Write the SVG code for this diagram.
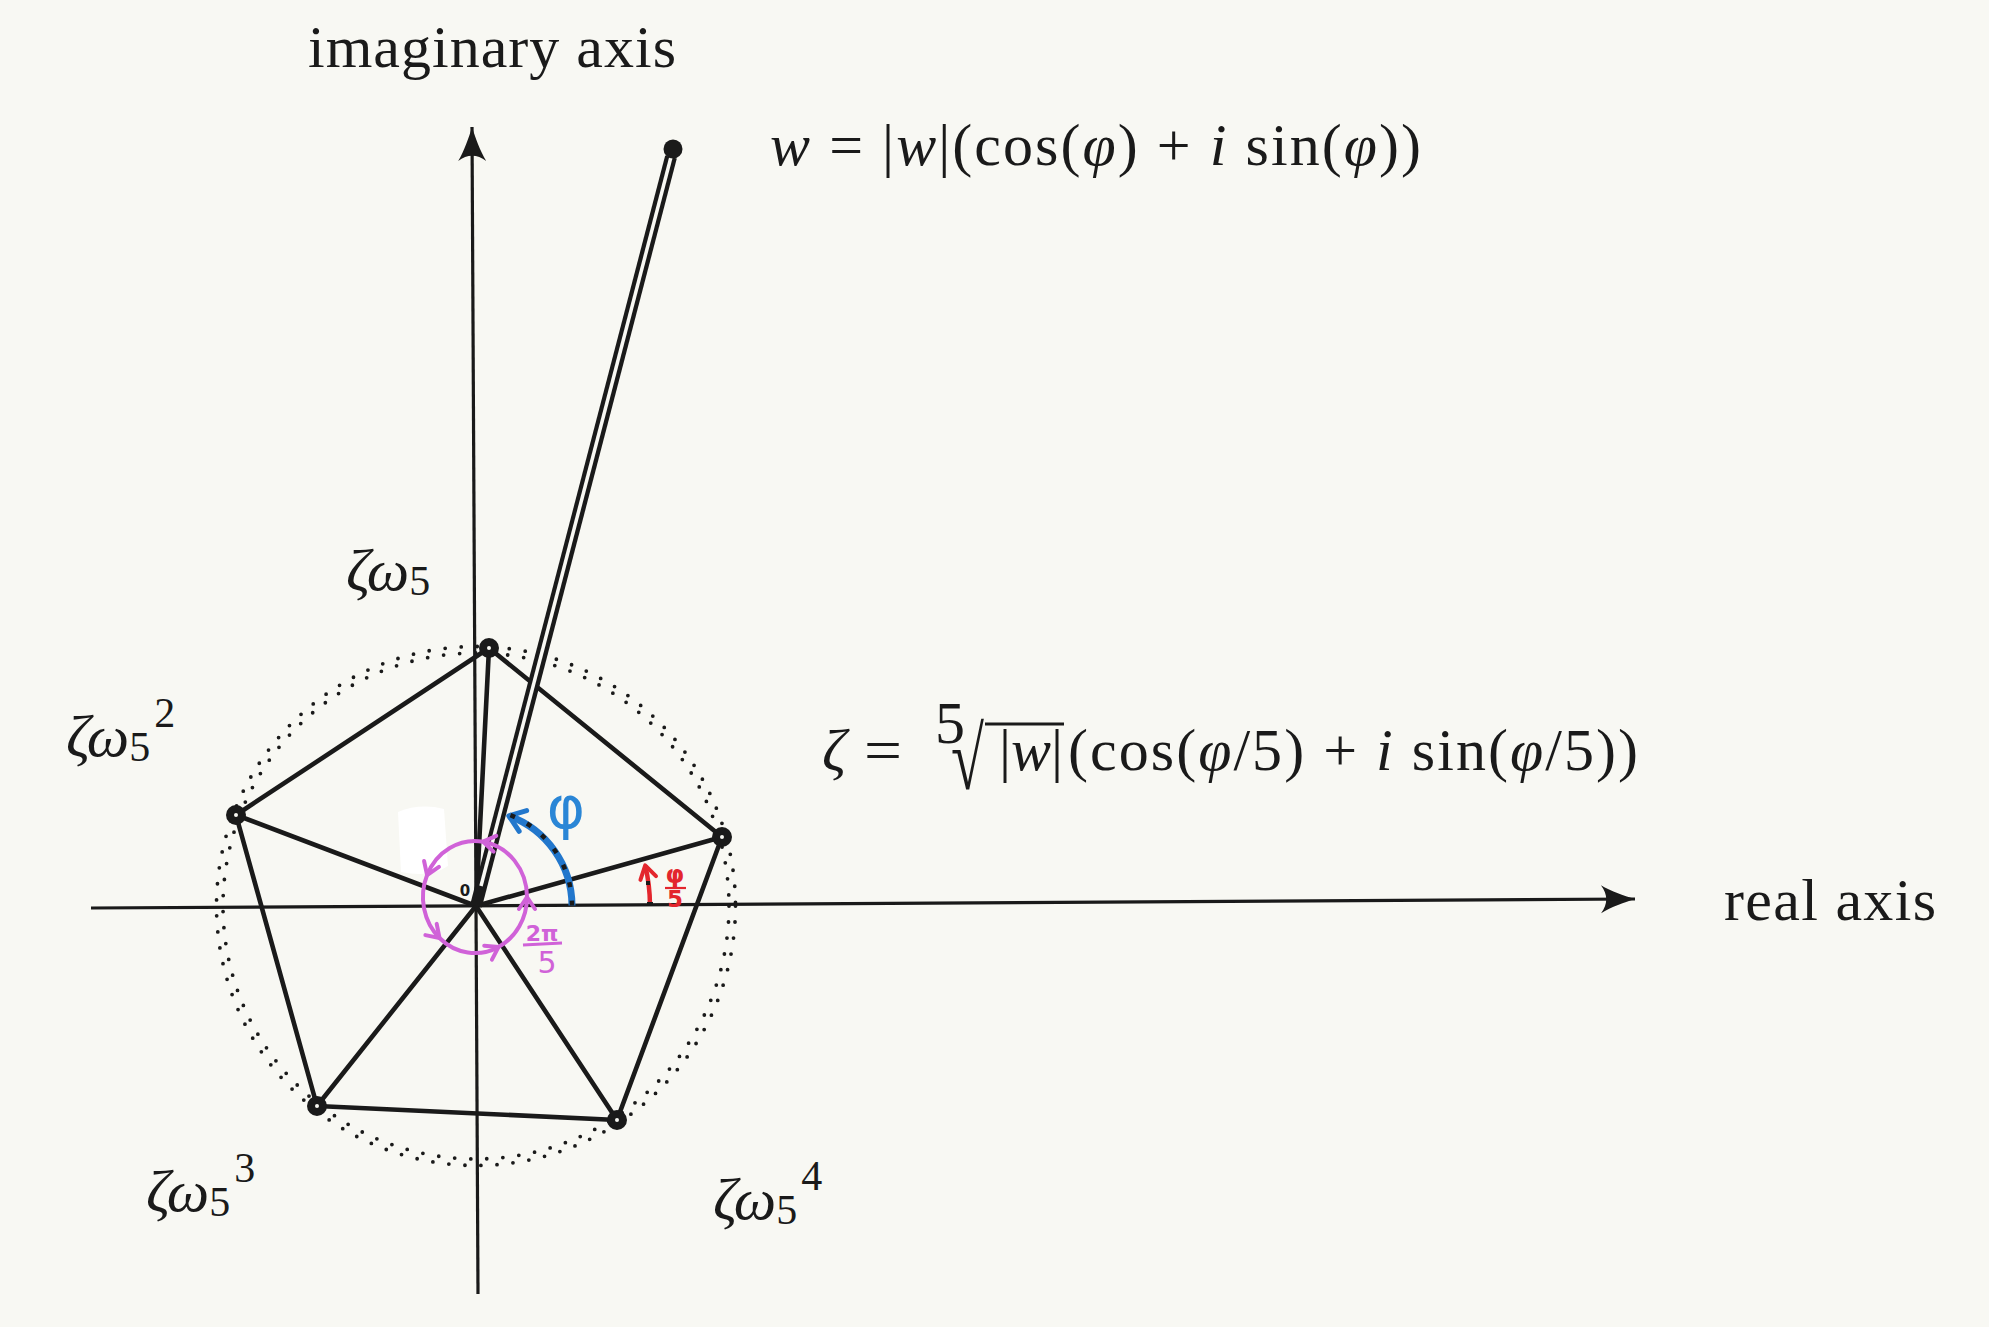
<svg xmlns="http://www.w3.org/2000/svg" width="1989" height="1327" viewBox="0 0 1989 1327">
<style>
.tx{font-family:"Liberation Serif","Times New Roman",serif;font-size:60px;fill:#1a1a1a}
.it{font-style:italic}
.sub{font-size:42px}
.ln{stroke:#1a1a1a;stroke-width:4.6;stroke-linecap:round;fill:none}
.ax{stroke:#1a1a1a;stroke-width:3.2;fill:none}
.vtx{fill:#f8f8f3;stroke:#1a1a1a;stroke-width:8}
.dots{fill:none;stroke:#1a1a1a;stroke-width:3.8;stroke-linecap:round;stroke-dasharray:0 16.1}
.blue{stroke:#2277cc}
.pink{stroke:#d062d8}
.red{stroke:#e3262d}
.hand{font-family:"DejaVu Sans","Liberation Sans",sans-serif}
</style>
<defs>
<marker id="axArrow" markerUnits="userSpaceOnUse" viewBox="-36 -16 38 32" refX="0" refY="0" markerWidth="38" markerHeight="32" orient="auto">
<path d="M0,0 C-10,-3 -24,-8 -34,-14 C-27,-5 -27,5 -34,14 C-24,8 -10,3 0,0 Z" fill="#1a1a1a"/>
</marker>
<marker id="blueArrow" markerUnits="userSpaceOnUse" viewBox="-22 -16 26 32" refX="0" refY="0" markerWidth="26" markerHeight="32" orient="auto" overflow="visible">
<path d="M-15,-11 L0,0 L-15,11" fill="none" stroke="#2277cc" stroke-width="5" stroke-linecap="round" stroke-linejoin="round"/>
</marker>
<marker id="redArrow" markerUnits="userSpaceOnUse" viewBox="-20 -14 24 28" refX="0" refY="0" markerWidth="24" markerHeight="28" orient="auto" overflow="visible">
<path d="M-13,-8 L0,0 L-13,8" fill="none" stroke="#e3262d" stroke-width="4" stroke-linecap="round" stroke-linejoin="round"/>
</marker>
<marker id="pinkArrow" markerUnits="userSpaceOnUse" viewBox="-16 -12 20 24" refX="0" refY="0" markerWidth="20" markerHeight="24" orient="auto" overflow="visible">
<path d="M-12,-8 L0,0 L-12,8" fill="none" stroke="#d062d8" stroke-width="4" stroke-linecap="round" stroke-linejoin="round"/>
</marker>
</defs>
<rect x="0" y="0" width="1989" height="1327" fill="#f8f8f3"/>

<g id="axes">
<line class="ax" x1="478" y1="1294" x2="472" y2="127" marker-end="url(#axArrow)"/>
<line class="ax" x1="91" y1="908" x2="1635" y2="899" marker-end="url(#axArrow)"/>
</g>

<g id="circle">
<circle class="dots" cx="476" cy="906" r="253"/>
<circle class="dots" cx="476" cy="906" r="259.5"/>
</g>

<g id="white-patch">
<path d="M398,812 Q420,803 444,809 L448,866 Q430,878 401,872 Z" fill="#ffffff"/>
</g>

<g id="connectors">
<path class="ln" d="M722,837 L489,648 L236,815 L317,1106 L617,1120 Z" stroke-linejoin="round"/>
<line class="ln" x1="476" y1="906" x2="722" y2="837"/>
<line class="ln" x1="476" y1="906" x2="489" y2="648"/>
<line class="ln" x1="476" y1="906" x2="236" y2="815"/>
<line class="ln" x1="476" y1="906" x2="317" y2="1106"/>
<line class="ln" x1="476" y1="906" x2="617" y2="1120"/>
<line x1="476" y1="906" x2="671" y2="157" stroke="#1a1a1a" stroke-width="12"/>
<line x1="481" y1="886" x2="671" y2="157" stroke="#f8f8f3" stroke-width="3.5"/>
</g>

<g id="node-w"><circle cx="673" cy="149" r="9.5" fill="#1a1a1a"/></g>
<g id="node-zeta"><circle class="vtx" cx="722" cy="837" r="6"/></g>
<g id="node-zeta-omega"><circle class="vtx" cx="489" cy="648" r="6"/></g>
<g id="node-zeta-omega2"><circle class="vtx" cx="236" cy="815" r="6"/></g>
<g id="node-zeta-omega3"><circle class="vtx" cx="317" cy="1106" r="6"/></g>
<g id="node-zeta-omega4"><circle class="vtx" cx="617" cy="1120" r="6"/></g>

<g id="angle-phi">
<path d="M572,905.5 A96,96 0 0 0 508.8,815.8" fill="none" class="blue" stroke-width="7" marker-end="url(#blueArrow)"/>
<path d="M572,905.5 A97,97 0 0 0 510,815" fill="none" stroke="#1a1a1a" stroke-width="4.5" stroke-dasharray="5 13.5"/>
<text class="hand" x="566" y="828" font-size="58" fill="#2a86d6" text-anchor="middle">φ</text>
</g>

<g id="angle-phi5">
<path d="M650,905 A174,174 0 0 0 645.2,865.4" fill="none" class="red" stroke-width="4.5" marker-end="url(#redArrow)"/>
<rect x="646" y="881" width="4" height="4" fill="#1a1a1a"/>
<rect x="647" y="902" width="6" height="4" fill="#1a1a1a"/>
<text class="hand" x="675" y="883" font-size="24" fill="#e3262d" text-anchor="middle" font-weight="bold">φ</text>
<line x1="665" y1="888" x2="686" y2="888" stroke="#e3262d" stroke-width="2.2"/>
<text class="hand" x="675" y="907" font-size="23" fill="#e3262d" text-anchor="middle" font-weight="bold">5</text>
</g>

<g id="angle-2pi5">
<path d="M527,897 A52,56 0 0 0 483.1,841.7" fill="none" class="pink" stroke-width="4" marker-end="url(#pinkArrow)"/>
<path d="M483.1,841.7 A52,56 0 0 0 427.1,875.1" fill="none" class="pink" stroke-width="4" marker-end="url(#pinkArrow)"/>
<path d="M427.1,875.1 A52,56 0 0 0 439.5,938" fill="none" class="pink" stroke-width="4" marker-end="url(#pinkArrow)"/>
<path d="M439.5,938 A52,56 0 0 0 498.6,946.9" fill="none" class="pink" stroke-width="4" marker-end="url(#pinkArrow)"/>
<path d="M498.6,946.9 A52,56 0 0 0 527,897" fill="none" class="pink" stroke-width="4" marker-end="url(#pinkArrow)"/>
<text class="hand" x="542" y="941" font-size="22" fill="#d062d8" text-anchor="middle" font-weight="bold">2π</text>
<line x1="523" y1="945" x2="562" y2="943" stroke="#d062d8" stroke-width="3"/>
<text class="hand" x="547" y="973" font-size="30" fill="#d062d8" text-anchor="middle">5</text>
<text class="hand" x="465" y="896" font-size="15" fill="#1a1a1a" text-anchor="middle" font-weight="bold">0</text>
</g>

<g id="labels">
<text class="tx" x="308" y="67" textLength="368">imaginary axis</text>
<text class="tx" x="1724" y="920" textLength="212">real axis</text>
<text class="tx" x="770" y="165" textLength="651"><tspan class="it">w</tspan> = |<tspan class="it">w</tspan>|(cos(<tspan class="it">φ</tspan>) + <tspan class="it">i</tspan> sin(<tspan class="it">φ</tspan>))</text>
<text class="tx" x="822" y="770"><tspan class="it">ζ</tspan></text>
<text class="tx" x="864" y="770" textLength="38" lengthAdjust="spacingAndGlyphs">=</text>
<text class="tx" x="935" y="743" font-size="23">5</text>
<text class="tx" transform="translate(951,789) scale(1,1.48)" x="0" y="0" font-size="72">√</text>
<line x1="985" y1="724" x2="1064" y2="724" stroke="#1a1a1a" stroke-width="3"/>
<text class="tx" x="999" y="770">|<tspan class="it">w</tspan>|</text>
<text class="tx" x="1068" y="770" textLength="570">(cos(<tspan class="it">φ</tspan>/5) + <tspan class="it">i</tspan> sin(<tspan class="it">φ</tspan>/5))</text>
<text class="tx" x="346" y="590"><tspan class="it">ζω</tspan><tspan class="sub" dy="5">5</tspan></text>
<text class="tx" x="66" y="756"><tspan class="it">ζω</tspan><tspan class="sub" dy="5">5</tspan><tspan class="sub" dx="4" dy="-34">2</tspan></text>
<text class="tx" x="146" y="1211"><tspan class="it">ζω</tspan><tspan class="sub" dy="5">5</tspan><tspan class="sub" dx="4" dy="-34">3</tspan></text>
<text class="tx" x="713" y="1219"><tspan class="it">ζω</tspan><tspan class="sub" dy="5">5</tspan><tspan class="sub" dx="4" dy="-34">4</tspan></text>
</g>
</svg>
